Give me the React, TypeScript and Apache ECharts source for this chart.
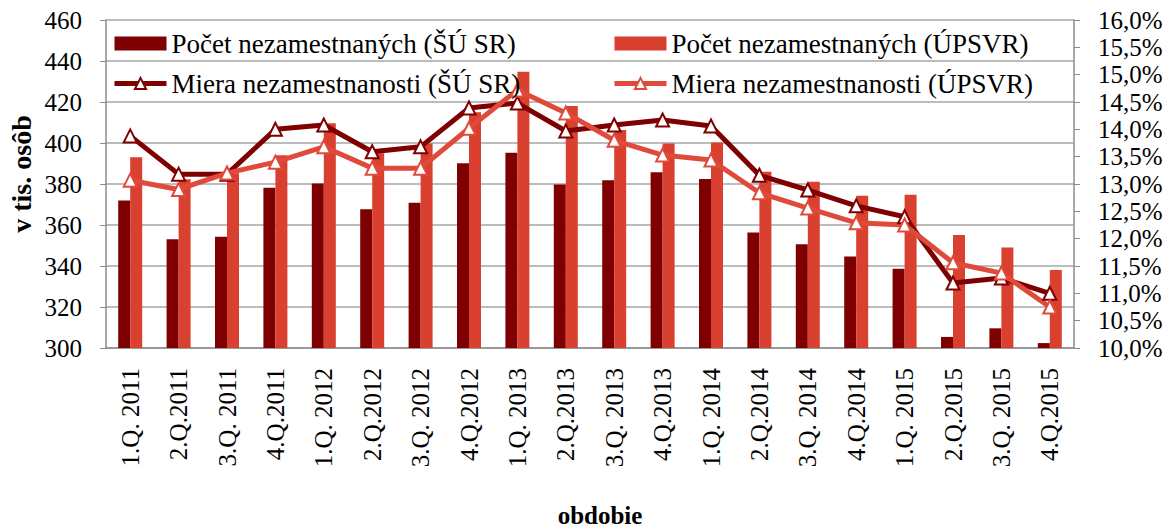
import React, { useEffect, useRef } from "react";
import * as echarts from "echarts";

const categories = [
  "1.Q. 2011", "2.Q.2011", "3.Q. 2011", "4.Q.2011",
  "1.Q. 2012", "2.Q.2012", "3.Q. 2012", "4.Q.2012",
  "1.Q. 2013", "2.Q.2013", "3.Q. 2013", "4.Q.2013",
  "1.Q. 2014", "2.Q.2014", "3.Q. 2014", "4.Q.2014",
  "1.Q. 2015", "2.Q.2015", "3.Q. 2015", "4.Q.2015",
];

const countSU = [372, 353, 354.3, 378.2, 380.2, 367.7, 370.9, 390.1, 395.3, 379.8, 381.8, 385.7, 382.4, 356.3, 350.6, 344.6, 338.7, 305.4, 309.6, 302.4];
const countUPSVR = [393, 382.3, 385.2, 394, 409.6, 395, 399.8, 415, 434.8, 418, 406.3, 399.8, 400.2, 386, 381.1, 374.3, 374.8, 355.1, 349, 338];
const rateSU = [13.88, 13.18, 13.18, 14.0, 14.08, 13.59, 13.68, 14.39, 14.48, 13.97, 14.08, 14.17, 14.06, 13.16, 12.89, 12.6, 12.4, 11.19, 11.28, 11.0];
const rateUPSVR = [13.07, 12.9, 13.2, 13.4, 13.68, 13.29, 13.29, 14.02, 14.72, 14.3, 13.8, 13.53, 13.44, 12.84, 12.56, 12.29, 12.25, 11.56, 11.37, 10.75];

const leftTicks = { min: 300, max: 460, interval: 20 };
const rightTicks = { min: 10, max: 16, interval: 0.5 };

const names = [
  "Počet nezamestnaných (ŠÚ SR)",
  "Počet nezamestnaných (ÚPSVR)",
  "Miera nezamestnanosti (ŠÚ SR)",
  "Miera nezamestnanosti (ÚPSVR)",
];

const DARK = "#7f0000";
const LIGHT = "#d9402f";
const LIGHT_LINE = "#e04a3a";
const FONT = "'Liberation Serif', 'Times New Roman', serif";

export default function App() {
  const ref = useRef<HTMLDivElement>(null);
  useEffect(() => {
    if (!ref.current) return;
    const chart = echarts.init(ref.current, null, { renderer: "svg" });
    const legendText = { fontFamily: FONT, fontSize: 27, color: "#000", lineHeight: 27 };
    const legendCommon = {
      orient: "vertical", itemWidth: 52, itemHeight: 14, itemGap: 13, top: 25,
      textStyle: legendText,
    };
    chart.setOption({
      animation: false,
      backgroundColor: "#fff",
      textStyle: { fontFamily: FONT },
      grid: { left: 106, right: 97, top: 20, bottom: 179, containLabel: false },
      legend: [
        {
          ...legendCommon, left: 107,
          data: [
            { name: names[0], icon: "rect" },
            { name: names[2], lineStyle: { width: 5 } },
          ],
        },
        {
          ...legendCommon, left: 607,
          data: [
            { name: names[1], icon: "rect" },
            { name: names[3], lineStyle: { width: 5 } },
          ],
        },
      ],
      xAxis: {
        type: "category",
        data: categories,
        axisLine: { show: true, lineStyle: { color: "#8c8c8c", width: 1.5 } },
        axisTick: { show: false },
        axisLabel: { rotate: 90, margin: 20, fontFamily: FONT, fontSize: 25, color: "#000", interval: 0 },
      },
      yAxis: [
        {
          type: "value",
          min: leftTicks.min, max: leftTicks.max, interval: leftTicks.interval,
          axisLine: { show: true, lineStyle: { color: "#8c8c8c", width: 1.5 } },
          axisTick: { show: true, length: 6, lineStyle: { color: "#8c8c8c" } },
          splitLine: { show: true, lineStyle: { color: "#a6a6a6", width: 1.5 } },
          axisLabel: { margin: 24, fontFamily: FONT, fontSize: 25, color: "#000" },
        },
        {
          type: "value",
          min: rightTicks.min, max: rightTicks.max, interval: rightTicks.interval,
          position: "right",
          axisLine: { show: true, lineStyle: { color: "#8c8c8c", width: 1.5 } },
          axisTick: { show: true, length: 6, lineStyle: { color: "#8c8c8c" } },
          splitLine: { show: false },
          axisLabel: {
            margin: 24, fontFamily: FONT, fontSize: 25, color: "#000",
            formatter: (v: number) => v.toFixed(1).replace(".", ",") + "%",
          },
        },
      ],
      series: [
        {
          name: names[0], type: "bar", data: countSU, barWidth: 12, barGap: "0%",
          itemStyle: { color: DARK },
        },
        {
          name: names[1], type: "bar", data: countUPSVR, barWidth: 12, barGap: "0%",
          itemStyle: { color: LIGHT },
        },
        {
          name: names[2], type: "line", yAxisIndex: 1, data: rateSU,
          lineStyle: { color: DARK, width: 5 },
          itemStyle: { color: "#fff", borderColor: DARK, borderWidth: 2 },
          symbol: "triangle", symbolSize: 13, showAllSymbol: true,
        },
        {
          name: names[3], type: "line", yAxisIndex: 1, data: rateUPSVR,
          lineStyle: { color: LIGHT_LINE, width: 5 },
          itemStyle: { color: "#fff", borderColor: LIGHT_LINE, borderWidth: 2 },
          symbol: "triangle", symbolSize: 13, showAllSymbol: true,
        },
      ],
      graphic: [
        {
          type: "text", x: 21, y: 174, rotation: Math.PI / 2,
          style: {
            text: "v tis. osôb", fontFamily: FONT, fontSize: 28, fontWeight: "bold",
            fill: "#000", align: "center", verticalAlign: "middle",
          },
        },
        {
          type: "text", x: 600, y: 515,
          style: {
            text: "obdobie", fontFamily: FONT, fontSize: 25, fontWeight: "bold",
            fill: "#000", align: "center", verticalAlign: "middle",
          },
        },
      ],
    });
    return () => chart.dispose();
  }, []);
  return (
    <div
      ref={ref}
      style={{ position: "fixed", left: 0, top: 0, width: 1171, height: 527, background: "#fff" }}
    />
  );
}
